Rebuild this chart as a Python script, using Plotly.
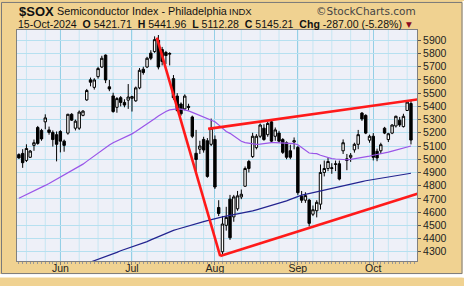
import pandas as pd
import plotly.graph_objects as go

# ---------------- data ----------------
HOLIDAYS = ["2024-05-27", "2024-06-19", "2024-07-04", "2024-09-02"]
dates = [d for d in pd.bdate_range("2024-05-16", "2024-10-15") if d.strftime("%Y-%m-%d") not in HOLIDAYS]

opens = [5035, 5044, 4991, 5015, 5105, 5240, 5218, 5283, 5222, 5203,
         5186, 5210, 5137, 5198, 5340, 5235, 5235, 5332, 5449, 5601,
         5544, 5625, 5698, 5788, 5548, 5479, 5393, 5466, 5430, 5447,
         5461, 5442, 5540, 5681, 5698, 5803, 5815, 5900, 5830, 5808,
         5795, 5610, 5478, 5418, 5381, 5400, 5320, 5045, 5076, 5150,
         5140, 5113, 5150, 4635, 4300, 4500, 4698, 4564, 4625, 4715,
         4796, 4983, 5020, 5088, 5174, 5235, 5186, 5283, 5174, 5198,
         5149, 5125, 5064, 5130, 5090, 4720, 4690, 4691, 4584, 4610,
         4660, 4900, 4930, 4930, 4960, 4966, 5064, 5003, 5015, 5071,
         5113, 5349, 5332, 5144, 5174, 5060, 5064, 5235, 5149, 5198,
         5252, 5296, 5247, 5369, 5421.71]
highs = [5045, 5076, 5113, 5070, 5149, 5252, 5230, 5340, 5247, 5218,
         5210, 5220, 5149, 5344, 5349, 5300, 5369, 5372, 5532, 5618,
         5613, 5700, 5783, 5793, 5600, 5503, 5470, 5478, 5454, 5569,
         5480, 5550, 5690, 5700, 5775, 5825, 5930, 5940, 5850, 5820,
         5810, 5637, 5500, 5430, 5491, 5420, 5330, 5222, 5140, 5170,
         5160, 5308, 5180, 4690, 4570, 4640, 4730, 4730, 4760, 4771,
         4945, 4995, 5200, 5190, 5270, 5265, 5285, 5303, 5240, 5215,
         5160, 5135, 5110, 5165, 5100, 4760, 4750, 4700, 4650, 4690,
         4960, 4990, 5010, 4970, 4990, 4990, 5150, 5040, 5047, 5125,
         5222, 5357, 5340, 5186, 5198, 5080, 5125, 5245, 5200, 5265,
         5330, 5320, 5344, 5445, 5441.96]
lows = [5003, 4935, 4979, 5010, 5064, 5110, 5140, 5227, 5186, 5096,
        4984, 5052, 5057, 5186, 5290, 5218, 5222, 5325, 5442, 5552,
        5527, 5610, 5690, 5576, 5515, 5352, 5352, 5400, 5393, 5381,
        5361, 5435, 5530, 5640, 5690, 5750, 5805, 5680, 5710, 5720,
        5710, 5450, 5360, 5330, 5370, 5370, 5160, 4905, 5040, 5050,
        4860, 5100, 4775, 4570, 4268, 4460, 4390, 4527, 4610, 4698,
        4790, 4900, 5010, 5075, 5160, 5140, 5170, 5130, 5140, 5125,
        5040, 5000, 5000, 5075, 4730, 4670, 4670, 4491, 4570, 4560,
        4620, 4870, 4910, 4890, 4910, 4840, 5040, 4917, 4980, 5050,
        5076, 5290, 5190, 5125, 4991, 4985, 5040, 5190, 5130, 5190,
        5240, 5245, 5240, 5365, 5112.28]
closes = [5010, 4974, 5081, 5062, 5125, 5120, 5154, 5313, 5203, 5149,
          5113, 5137, 5105, 5340, 5296, 5288, 5357, 5364, 5520, 5583,
          5600, 5686, 5764, 5600, 5532, 5361, 5459, 5430, 5410, 5471,
          5474, 5540, 5673, 5656, 5764, 5764, 5905, 5698, 5740, 5785,
          5800, 5466, 5369, 5344, 5478, 5393, 5174, 4998, 5100, 5070,
          4870, 5235, 4790, 4590, 4510, 4560, 4406, 4715, 4723, 4735,
          4930, 4930, 5174, 5174, 5259, 5149, 5271, 5137, 5222, 5137,
          5052, 5015, 5015, 5140, 4747, 4690, 4725, 4515, 4618, 4674,
          4900, 4930, 4983, 4935, 4965, 4850, 5125, 4991, 5030, 5113,
          5186, 5305, 5198, 5174, 5015, 5010, 5110, 5198, 5193, 5259,
          5325, 5260, 5325, 5432.21, 5145.21]

sma50 = [4705, 4718, 4731, 4744, 4757, 4772, 4787, 4802, 4817, 4833,
         4850, 4866, 4882, 4897, 4912, 4928, 4942, 4963, 4984, 5005,
         5026, 5048, 5068, 5088, 5107, 5125, 5138, 5151, 5164, 5178,
         5192, 5210, 5228, 5246, 5264, 5285, 5306, 5327, 5345, 5361,
         5373, 5378, 5381, 5379, 5373, 5366, 5355, 5343, 5331, 5317,
         5306, 5296, 5284, 5260, 5232, 5210, 5196, 5178, 5158, 5136,
         5126, 5120, 5116, 5113, 5115, 5119, 5124, 5126, 5126, 5125,
         5125, 5125, 5124, 5118, 5110, 5090, 5068, 5047, 5044, 5042,
         5030, 5020, 5012, 5005, 5002, 4999, 4997, 4996, 4999, 5003,
         5008, 5013, 5018, 5023, 5030, 5035, 5041, 5047, 5054, 5062,
         5069, 5076, 5084, 5092, 5100]
sma200 = [None] * 19 + [
    4222, 4232, 4243, 4254, 4265, 4274, 4282, 4295, 4308, 4318, 4326,
    4332, 4343, 4355, 4366, 4377, 4390, 4403, 4415, 4428, 4441,
    4454, 4462, 4470, 4479, 4488, 4497, 4505, 4513, 4520, 4528,
    4536, 4544, 4552, 4559, 4564, 4570, 4575, 4580, 4586, 4591,
    4596, 4601, 4609, 4617, 4625, 4634, 4642, 4650, 4658, 4666,
    4674, 4685, 4696, 4707, 4718, 4728, 4734, 4740, 4746, 4752,
    4758, 4764, 4770, 4776, 4783, 4790, 4797, 4803, 4810, 4817,
    4824, 4830, 4837, 4842, 4847, 4852, 4857, 4862, 4867, 4872,
    4877, 4882, 4886, 4890, 4894]

# trendlines: (bar number, price) end points
trend_lines = [
    [(36.6, 5920), (53.4, 4267)],
    [(53.4, 4267), (106.9, 4749)],
    [(50.2, 5230), (107.2, 5459)],
]
price_ticks = list(range(4300, 6000, 100))

# ---------------- figure ----------------
W, H = 464, 286
ML, MR, MT, MB = 17, 47, 30, 17
PW, PH = W - ML - MR, H - MT - MB

def px(x):
    return (x - ML) / PW

def py(y):
    return (H - MB - y) / PH

xs = list(range(len(dates)))
month_idx = [i for i in xs if i > 0 and dates[i].month != dates[i - 1].month]
week_idx = [i for i in xs if i > 0 and dates[i].isocalendar()[1] != dates[i - 1].isocalendar()[1]]

fig = go.Figure()
fig.add_trace(go.Scatter(x=xs, y=sma200, mode="lines", line=dict(color="#23238f", width=1.2),
                         hoverinfo="skip", showlegend=False))
fig.add_trace(go.Scatter(x=xs, y=sma50, mode="lines", line=dict(color="#9a55e8", width=1.2),
                         hoverinfo="skip", showlegend=False))
fig.add_trace(go.Candlestick(
    x=xs, open=opens, high=highs, low=lows, close=closes,
    increasing=dict(line=dict(color="black", width=1), fillcolor="white"),
    decreasing=dict(line=dict(color="black", width=1), fillcolor="black"),
    whiskerwidth=0, showlegend=False,
    text=[d.strftime("%d-%b-%Y") for d in dates], hoverinfo="text+y"))

shapes = []
for i in week_idx:
    shapes.append(dict(type="line", xref="x", yref="paper", x0=i, x1=i, y0=0, y1=1,
                       line=dict(color="#c6e6f2", width=1), layer="below"))
for (xa, ya), (xb, yb) in trend_lines:
    shapes.append(dict(type="line", xref="x", yref="y", x0=xa, y0=ya, x1=xb, y1=yb,
                       line=dict(color="#ff1a1a", width=2.6), layer="above"))
# outer frame and white margin strip
shapes.append(dict(type="rect", xref="paper", yref="paper", x0=px(0), x1=px(W), y0=py(H), y1=py(282.5),
                   fillcolor="white", line=dict(width=0), layer="above"))
shapes.append(dict(type="rect", xref="paper", yref="paper", x0=px(462.5), x1=px(W), y0=py(H), y1=py(0),
                   fillcolor="white", line=dict(width=0), layer="above"))
shapes.append(dict(type="rect", xref="paper", yref="paper", x0=px(1.5), x1=px(462), y0=py(282), y1=py(1.5),
                   fillcolor="rgba(0,0,0,0)", line=dict(color="#7a7a7a", width=1), layer="above"))

FONT = "Liberation Sans, Arial, sans-serif"
chg = closes[-1] - closes[-2]
chg_pct = chg / closes[-2] * 100
sp = "\u00a0\u00a0"
line2 = (f"{dates[-1].strftime('%d-%b-%Y')}{sp}<b>O</b> {opens[-1]:.2f}{sp}<b>H</b> {highs[-1]:.2f}{sp}"
         f"<b>L</b> {lows[-1]:.2f}{sp}<b>C</b> {closes[-1]:.2f}{sp}<b>Chg</b> {chg:.2f} ({chg_pct:.2f}%)")

annotations = [
    dict(text="<b>$SOX</b>", x=px(17), y=py(10.5), xanchor="left", yanchor="middle",
         font=dict(size=13, family=FONT, color="#111")),
    dict(text="Semiconductor Index - Philadelphia", x=px(55), y=py(10.5), xanchor="left", yanchor="middle",
         font=dict(size=10.8, family=FONT, color="#111")),
    dict(text="INDX", x=px(227), y=py(11), xanchor="left", yanchor="middle",
         font=dict(size=9.5, family=FONT, color="#111")),
    dict(text="\u00a9StockCharts.com", x=px(418), y=py(10.5), xanchor="right", yanchor="middle",
         font=dict(size=10.5, family="DejaVu Sans, sans-serif", color="#444")),
    dict(text=line2, x=px(16), y=py(24), xanchor="left", yanchor="middle",
         font=dict(size=10.55, family=FONT, color="#111")),
    dict(text="\u25bc", x=px(404), y=py(24.5), xanchor="left", yanchor="middle",
         font=dict(size=7.5, family="DejaVu Sans, sans-serif", color="#8b0a1e")),
]
for a in annotations:
    a.update(xref="paper", yref="paper", showarrow=False)

fig.update_layout(
    width=W, height=H, margin=dict(l=ML, r=MR, t=MT, b=MB),
    paper_bgcolor="#f0d291", plot_bgcolor="#eef0f8",
    boxgap=0.2, boxgroupgap=0.2,
    shapes=shapes, annotations=annotations, showlegend=False,
    xaxis=dict(range=[-0.5, 105.6], tickvals=month_idx,
               ticktext=[dates[i].strftime("%b") for i in month_idx],
               showgrid=True, gridcolor="#94cfe6", gridwidth=1, zeroline=False,
               ticks="outside", ticklen=3, tickcolor="#777", ticklabelstandoff=-6,
               minor=dict(dtick=1, tick0=0, ticks="outside", ticklen=2, tickcolor="#999", showgrid=False),
               showline=True, linecolor="#808080", linewidth=1, mirror=True,
               rangeslider=dict(visible=False),
               tickfont=dict(size=10.5, family=FONT, color="#222")),
    yaxis=dict(range=[4230, 5978], side="right", tickvals=price_ticks,
               showgrid=True, gridcolor="#b6e0f0", gridwidth=1, zeroline=False,
               ticks="outside", ticklen=3, tickcolor="#555",
               showline=True, linecolor="#808080", linewidth=1, mirror=True,
               tickfont=dict(size=10.5, family=FONT, color="#222")),
)

fig.write_html("out.html")
